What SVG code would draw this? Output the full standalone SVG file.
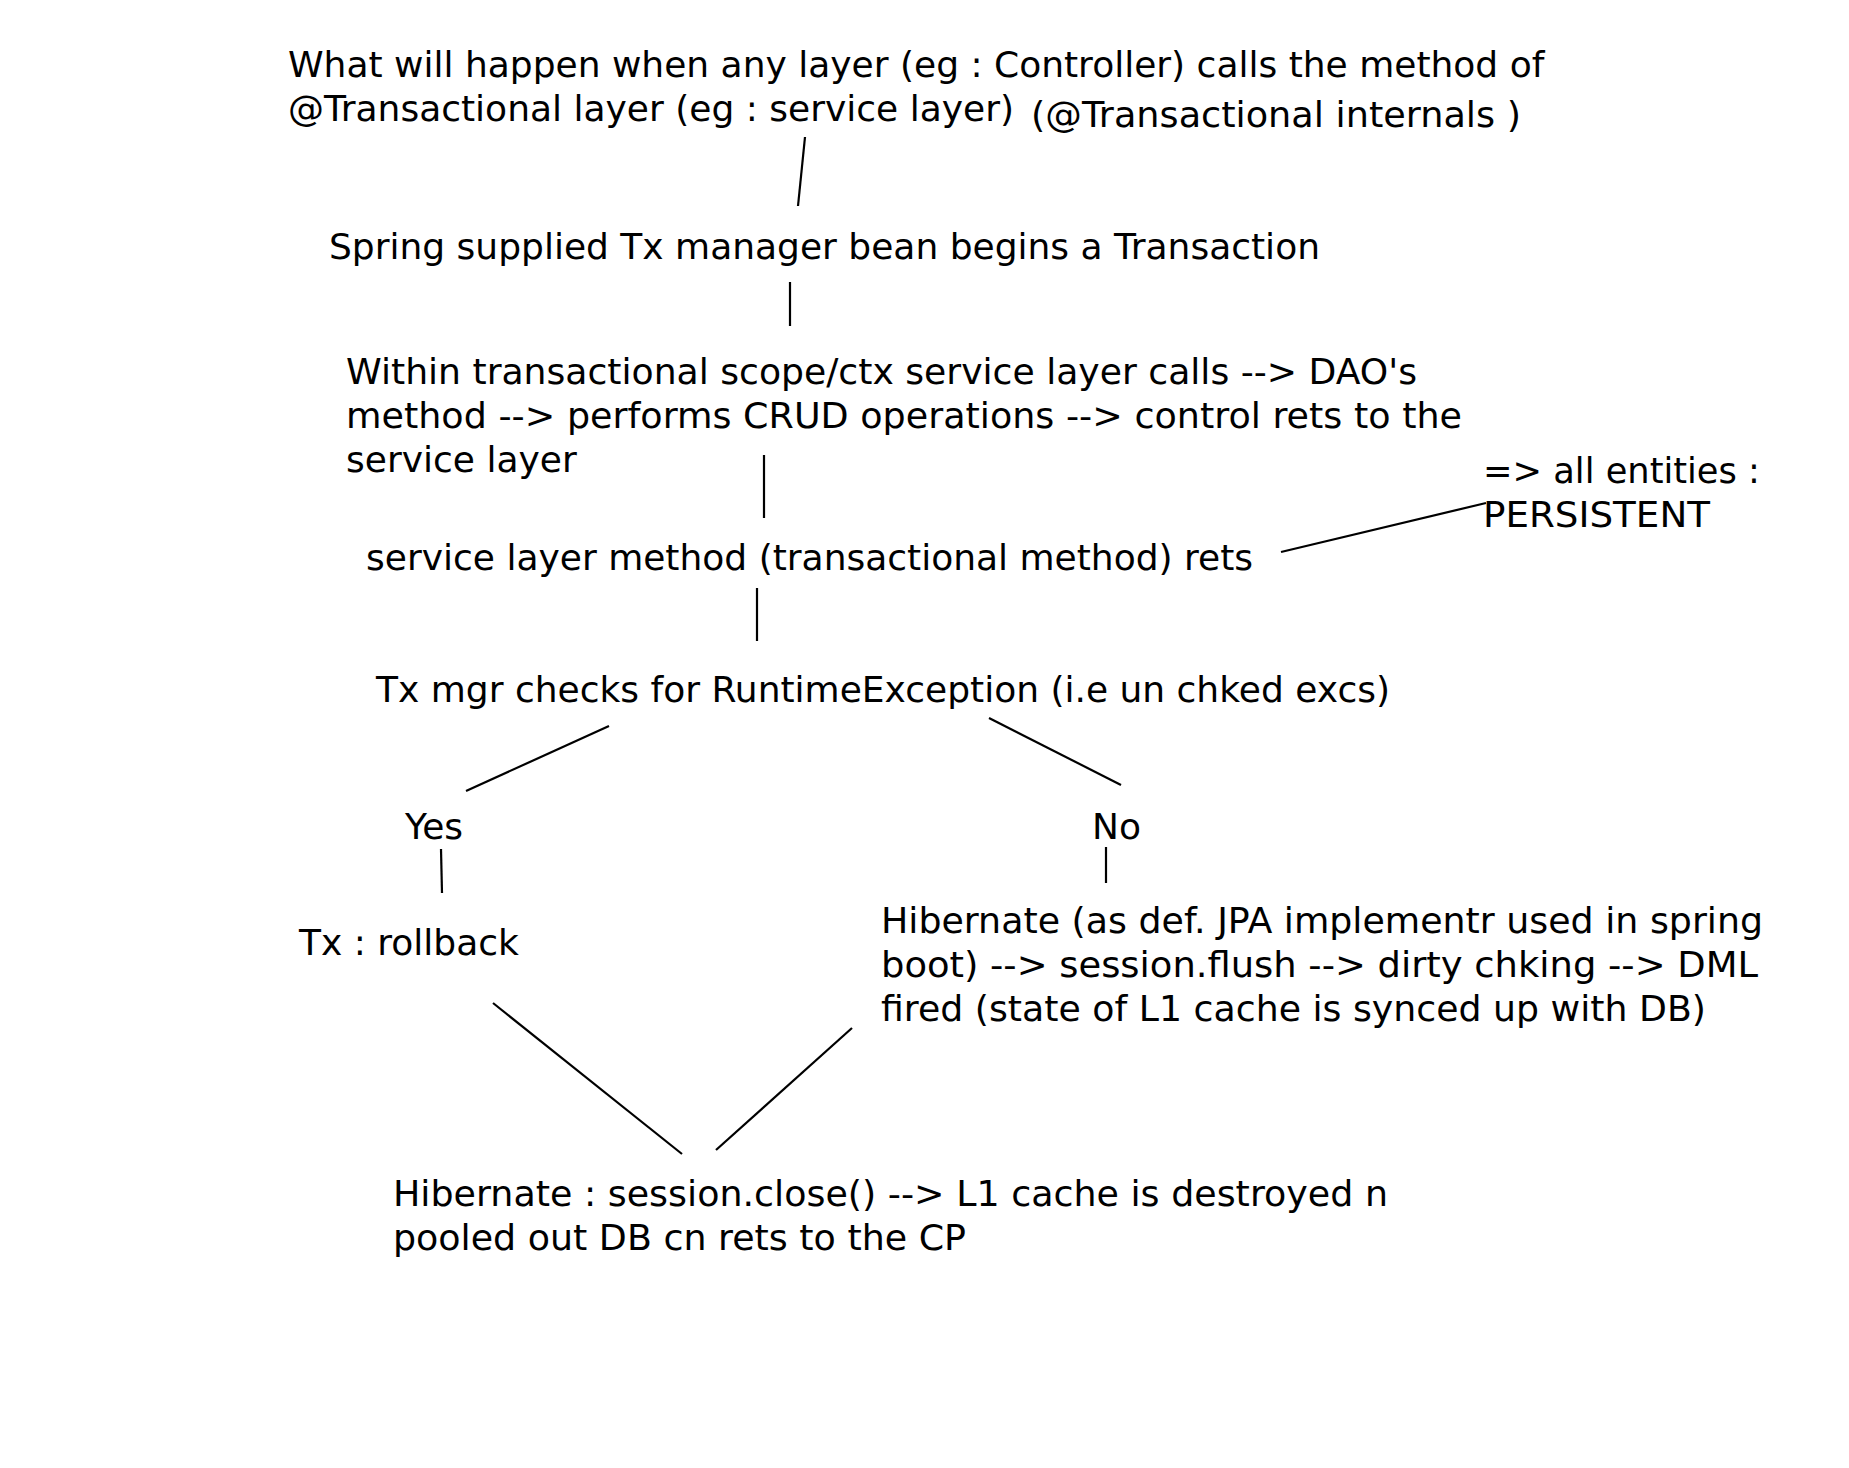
<svg xmlns="http://www.w3.org/2000/svg" width="1849" height="1468" viewBox="0 0 1849 1468">
<style>
text { font-family: "DejaVu Sans", Verdana, sans-serif; font-size: 36px; fill: #000; }
.c line { stroke: #000; stroke-width: 2.2; stroke-linecap: butt; }
</style>
<rect width="1849" height="1468" fill="#fff"/>
<g id="n-question">
<text x="288" y="77">What will happen when any layer (eg : Controller) calls the method of</text>
<text x="288" y="121">@Transactional layer (eg : service layer)</text>
<text x="1031" y="127" textLength="490" lengthAdjust="spacingAndGlyphs">(@Transactional internals )</text>
</g>
<g id="n-begin"><text x="329" y="259">Spring supplied Tx manager bean begins a Transaction</text></g>
<g id="n-within">
<text x="346" y="384" textLength="1071" lengthAdjust="spacingAndGlyphs">Within transactional scope/ctx service layer calls --&gt; DAO's</text>
<text x="346" y="428" textLength="1116" lengthAdjust="spacingAndGlyphs">method --&gt; performs CRUD operations --&gt; control rets to the</text>
<text x="346" y="472">service layer</text>
</g>
<g id="n-persistent">
<text x="1483" y="483" textLength="277" lengthAdjust="spacingAndGlyphs">=&gt; all entities :</text>
<text x="1483" y="527" textLength="227" lengthAdjust="spacingAndGlyphs">PERSISTENT</text>
</g>
<g id="n-rets"><text x="366" y="570">service layer method (transactional method) rets</text></g>
<g id="n-check"><text x="376" y="702">Tx mgr checks for RuntimeException (i.e un chked excs)</text></g>
<g id="n-yes"><text x="405" y="839">Yes</text></g>
<g id="n-no"><text x="1092" y="839">No</text></g>
<g id="n-rollback"><text x="299" y="955">Tx : rollback</text></g>
<g id="n-flush">
<text x="881" y="933" textLength="882" lengthAdjust="spacingAndGlyphs">Hibernate (as def. JPA implementr used in spring</text>
<text x="881" y="977" textLength="877" lengthAdjust="spacingAndGlyphs">boot) --&gt; session.flush --&gt; dirty chking --&gt; DML</text>
<text x="881" y="1021" textLength="825" lengthAdjust="spacingAndGlyphs">fired (state of L1 cache is synced up with DB)</text>
</g>
<g id="n-close">
<text x="393" y="1206" textLength="995" lengthAdjust="spacingAndGlyphs">Hibernate : session.close() --&gt; L1 cache is destroyed n</text>
<text x="393" y="1250" textLength="573" lengthAdjust="spacingAndGlyphs">pooled out DB cn rets to the CP</text>
</g>
<g class="c" id="connectors">
<line x1="805" y1="137" x2="798" y2="206"/>
<line x1="790" y1="282" x2="790" y2="326"/>
<line x1="764" y1="455" x2="764" y2="518"/>
<line x1="1281" y1="552" x2="1486" y2="503"/>
<line x1="757" y1="588" x2="757" y2="641"/>
<line x1="609" y1="726" x2="466" y2="791"/>
<line x1="989" y1="718" x2="1121" y2="785"/>
<line x1="441" y1="849" x2="442" y2="893"/>
<line x1="1106" y1="847" x2="1106" y2="883"/>
<line x1="493" y1="1003" x2="682" y2="1154"/>
<line x1="852" y1="1028" x2="716" y2="1150"/>
</g>
</svg>
